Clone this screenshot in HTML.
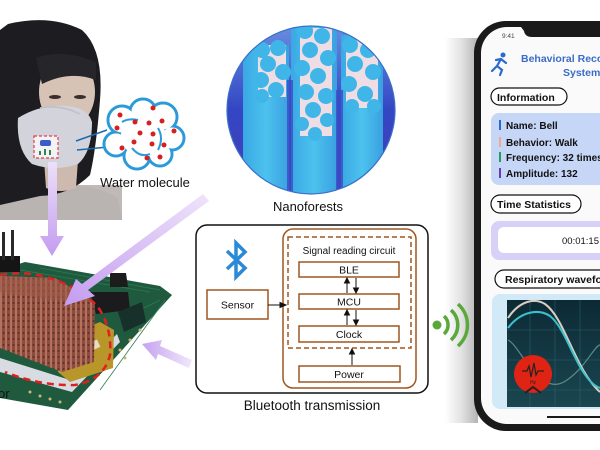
<!DOCTYPE html>
<html><head><meta charset="utf-8">
<style>
html,body{margin:0;padding:0;background:#fff;}
svg{display:block;}
text{font-family:"Liberation Sans",Arial,sans-serif;}
</style></head>
<body>
<svg width="600" height="450" viewBox="0 0 600 450" xmlns="http://www.w3.org/2000/svg">
<defs>
  <clipPath id="nc"><circle cx="311" cy="110" r="84"/></clipPath>
  <linearGradient id="dk" x1="0" y1="0" x2="0" y2="1">
    <stop offset="0" stop-color="#6a8ee0"/>
    <stop offset="0.5" stop-color="#3346c4"/>
    <stop offset="1" stop-color="#4a3cb4"/>
  </linearGradient>
  <linearGradient id="cy" x1="0" y1="0" x2="1" y2="0">
    <stop offset="0" stop-color="#3aa8e4"/>
    <stop offset="0.5" stop-color="#4cc2ee"/>
    <stop offset="1" stop-color="#3aa0e0"/>
  </linearGradient>
  <linearGradient id="shadow" x1="0" y1="0" x2="1" y2="0">
    <stop offset="0" stop-color="#ffffff"/>
    <stop offset="0.5" stop-color="#e2e2e2"/>
    <stop offset="1" stop-color="#b4b4b4"/>
  </linearGradient>
  <linearGradient id="graph" x1="0" y1="0" x2="0" y2="1">
    <stop offset="0" stop-color="#0c2a36"/>
    <stop offset="1" stop-color="#1a4650"/>
  </linearGradient>
  <linearGradient id="pa" x1="0" y1="0" x2="0" y2="1">
    <stop offset="0" stop-color="#ece0f8"/>
    <stop offset="1" stop-color="#c49cf0"/>
  </linearGradient>
  <linearGradient id="pd" x1="1" y1="0" x2="0" y2="1">
    <stop offset="0" stop-color="#eee4fa"/>
    <stop offset="1" stop-color="#c49cf0"/>
  </linearGradient>
  <linearGradient id="pr" x1="1" y1="0" x2="0" y2="0">
    <stop offset="0" stop-color="#f0e8fb"/>
    <stop offset="1" stop-color="#c6a2f0"/>
  </linearGradient>
  <pattern id="cu" width="5" height="6" patternUnits="userSpaceOnUse">
    <rect width="5" height="6" fill="#8a4c3c"/>
    <rect x="0" y="0" width="2" height="6" fill="#b57060"/>
    <circle cx="3.5" cy="3" r="1" fill="#5e3026"/>
  </pattern>
</defs>

<!-- ===== Woman photo ===== -->
<rect x="0" y="185" width="122" height="35" fill="#bfb9b8"/>
<path d="M0,192 Q30,182 60,186 Q95,184 118,198 L122,220 L0,220 Z" fill="#b9b3b2"/>
<path d="M8,24 Q50,14 82,30 Q104,50 100,100 Q96,150 90,175 Q70,195 40,196 L0,205 L0,30 Z" fill="#1d1c21"/>
<path d="M44,160 L78,160 L76,188 Q60,194 46,188 Z" fill="#cdb9ad"/>
<ellipse cx="67" cy="92" rx="28" ry="36" fill="#d7c3b6"/>
<path d="M36,58 Q62,48 96,62 L96,80 Q70,70 42,84 Z" fill="#26252a"/>
<ellipse cx="55" cy="97" rx="6" ry="2" fill="#3a2e2c"/>
<ellipse cx="80" cy="97" rx="6" ry="2" fill="#3a2e2c"/>
<path d="M18,118 Q40,104 68,106 Q88,108 92,122 Q92,152 78,164 Q55,172 32,164 Q16,150 18,118 Z" fill="#d3d3dc"/>
<path d="M40,108 Q60,104 80,114" stroke="#bfbfca" stroke-width="1.5" fill="none"/>
<rect x="34" y="136" width="24" height="22" fill="#f4f2f6" stroke="#e04040" stroke-width="1.2" stroke-dasharray="3,2"/>
<rect x="40" y="140" width="11" height="6" rx="2" fill="#3a5cc8"/>
<rect x="39" y="151" width="2" height="4" fill="#2a8a4a"/>
<rect x="44" y="149" width="2" height="6" fill="#2a8a4a"/>
<rect x="49" y="150" width="2" height="5" fill="#2a8a4a"/>
<line x1="76" y1="141" x2="107" y2="130" stroke="#1b6ab0" stroke-width="1.5"/>
<line x1="77" y1="150" x2="108" y2="147" stroke="#1b6ab0" stroke-width="1.5"/>

<!-- Cloud -->
<g stroke="#2a9ad8" stroke-width="3" fill="#fff">
  <circle cx="122" cy="120" r="14"/><circle cx="143" cy="112" r="13"/><circle cx="163" cy="117" r="14"/>
  <circle cx="172" cy="138" r="12"/><circle cx="160" cy="154" r="12"/><circle cx="137" cy="156" r="13"/>
  <circle cx="116" cy="144" r="12"/>
</g>
<g fill="#fff">
  <circle cx="122" cy="120" r="12.5"/><circle cx="143" cy="112" r="11.5"/><circle cx="163" cy="117" r="12.5"/>
  <circle cx="172" cy="138" r="10.5"/><circle cx="160" cy="154" r="10.5"/><circle cx="137" cy="156" r="11.5"/>
  <circle cx="116" cy="144" r="10.5"/><circle cx="143" cy="135" r="22"/>
</g>
<path d="M122,122 Q128,118 138,120 M158,128 Q164,138 158,150 M132,148 Q140,158 150,154" stroke="#2a9ad8" stroke-width="2" fill="none"/>
<g fill="#d42020">
  <circle cx="120" cy="115" r="2.5"/><circle cx="117" cy="128" r="2.5"/><circle cx="153" cy="108" r="2.5"/>
  <circle cx="135" cy="122" r="2.5"/><circle cx="149" cy="123" r="2.5"/><circle cx="162" cy="121" r="2.5"/>
  <circle cx="140" cy="133" r="2.5"/><circle cx="153" cy="134" r="2.5"/><circle cx="134" cy="142" r="2.5"/>
  <circle cx="152" cy="144" r="2.5"/><circle cx="164" cy="145" r="2.5"/><circle cx="174" cy="131" r="2.5"/>
  <circle cx="122" cy="148" r="2.5"/><circle cx="147" cy="158" r="2.5"/><circle cx="160" cy="157" r="2.5"/>
</g>
<text x="145" y="187" font-size="13" text-anchor="middle" fill="#111">Water molecule</text>

<!-- ===== Nanoforests circle ===== -->
<g clip-path="url(#nc)">
  <rect x="225" y="24" width="172" height="172" fill="url(#dk)"/>
  <rect x="243" y="45" width="46" height="155" fill="url(#cy)"/>
  <rect x="291" y="20" width="46" height="180" fill="url(#cy)"/>
  <rect x="341" y="35" width="42" height="165" fill="url(#cy)"/>
  <rect x="258" y="45" width="28" height="52" fill="#efdde6"/>
  <rect x="300" y="28" width="32" height="108" fill="#efdde6"/>
  <rect x="346" y="40" width="32" height="68" fill="#efdde6"/>
  <g fill="#40b6e8">
    <circle cx="262" cy="50" r="8"/><circle cx="278" cy="48" r="8"/><circle cx="268" cy="64" r="8"/><circle cx="283" cy="72" r="8"/>
    <circle cx="261" cy="80" r="8"/><circle cx="276" cy="90" r="8"/><circle cx="262" cy="96" r="7"/>
    <circle cx="305" cy="31" r="8"/><circle cx="322" cy="36" r="8"/><circle cx="310" cy="50" r="8"/><circle cx="328" cy="58" r="8"/>
    <circle cx="302" cy="68" r="8"/><circle cx="318" cy="76" r="8"/><circle cx="306" cy="92" r="8"/><circle cx="326" cy="96" r="8"/>
    <circle cx="313" cy="110" r="8"/><circle cx="302" cy="124" r="7"/><circle cx="327" cy="120" r="7"/><circle cx="315" cy="134" r="7"/>
    <circle cx="350" cy="45" r="8"/><circle cx="368" cy="50" r="8"/><circle cx="355" cy="64" r="8"/><circle cx="373" cy="72" r="8"/>
    <circle cx="349" cy="84" r="8"/><circle cx="365" cy="94" r="8"/><circle cx="352" cy="106" r="7"/><circle cx="374" cy="106" r="7"/>
  </g>
  <rect x="287" y="80" width="6" height="120" fill="#3a4cc6" opacity="0.8"/>
  <rect x="336" y="90" width="7" height="110" fill="#3a4cc6" opacity="0.8"/>
</g>
<circle cx="311" cy="110" r="84" fill="none" stroke="#3a70c8" stroke-width="1.2"/>
<text x="308" y="211" font-size="13" text-anchor="middle" fill="#111">Nanoforests</text>

<!-- ===== PCB ===== -->
<polygon points="0,270 25,262 160,286 172,295 68,410 0,398" fill="#1f5a3e"/>
<path d="M20,270 L150,292 M40,268 L160,290 M120,320 L160,300 M100,390 L165,300" stroke="#2e7a54" stroke-width="0.8" fill="none"/>
<g fill="#c8b870">
  <circle cx="30" cy="392" r="1.5"/><circle cx="40" cy="396" r="1.5"/><circle cx="50" cy="399" r="1.5"/><circle cx="60" cy="402" r="1.5"/>
  <circle cx="120" cy="350" r="1.5"/><circle cx="125" cy="358" r="1.5"/><circle cx="130" cy="340" r="1.5"/><circle cx="140" cy="330" r="1.5"/>
</g>
<rect x="0" y="256" width="20" height="16" fill="#151515"/>
<rect x="2" y="232" width="3" height="28" fill="#2a2a2a"/>
<rect x="11" y="230" width="3" height="30" fill="#2a2a2a"/>
<polygon points="110,273 126,273 128,287 110,287" fill="#1c1c1c"/>
<polygon points="90,292 128,292 130,310 96,314" fill="#1b1b1e"/>
<polygon points="118,312 142,302 146,322 124,332" fill="#18302a"/>
<polygon points="0,358 70,380 117,334 120,342 72,392 0,372" fill="#d8dce2"/>
<polygon points="56,340 100,322 114,330 113,368 70,382 58,372" fill="#b8962a"/>
<rect x="72" y="345" width="28" height="8" fill="#e6dcc0" transform="rotate(-25 86 349)"/>
<polygon points="0,276 55,278 95,302 94,362 62,372 0,348" fill="url(#cu)"/>
<polygon points="0,276 55,278 95,302 40,298 0,292" fill="#9e5c4a" opacity="0.6"/>
<path d="M0,275 Q30,270 55,280 Q85,290 100,310 Q112,330 110,355 Q104,380 75,385 Q40,386 5,372" fill="none" stroke="#e02020" stroke-width="2.5" stroke-dasharray="7,5"/>
<text x="-2" y="398" font-size="13" fill="#111">or</text>

<!-- purple arrows -->
<polygon points="48,162 57,162 57,236 64,236 52,256 40,236 48,236" fill="url(#pa)"/>
<polygon points="203,194 209,201 88,290 95,296 64,306 76,279 82,284" fill="url(#pd)"/>
<polygon points="192,360 189,368 158,354 156,360 142,344 162,340 160,346" fill="url(#pr)"/>

<!-- ===== Bluetooth box ===== -->
<rect x="196" y="225" width="232" height="168" rx="11" fill="#fff" stroke="#111" stroke-width="1.5"/>
<rect x="283" y="229" width="133" height="159" rx="10" fill="none" stroke="#a0561e" stroke-width="1.5"/>
<rect x="288" y="237" width="123" height="111" fill="none" stroke="#a0561e" stroke-width="1.5" stroke-dasharray="5,3"/>
<text x="349" y="254" font-size="10" text-anchor="middle" fill="#111">Signal reading circuit</text>
<g fill="#fff" stroke="#a0561e" stroke-width="1.5">
  <rect x="299" y="262" width="100" height="15"/>
  <rect x="299" y="294" width="100" height="15"/>
  <rect x="299" y="326" width="100" height="16"/>
  <rect x="299" y="366" width="101" height="16"/>
  <rect x="207" y="290" width="61" height="29"/>
</g>
<g font-size="10.5" text-anchor="middle" fill="#111">
  <text x="349" y="273.5">BLE</text>
  <text x="349" y="305.5">MCU</text>
  <text x="349" y="338">Clock</text>
  <text x="349" y="378">Power</text>
  <text x="237.5" y="308.5">Sensor</text>
</g>
<g stroke="#111" stroke-width="1" fill="#111">
  <line x1="268" y1="305" x2="282" y2="305"/><polygon points="286,305 280,302.5 280,307.5"/>
  <line x1="347" y1="293" x2="347" y2="282"/><polygon points="347,278 344.5,283 349.5,283"/>
  <line x1="356" y1="278" x2="356" y2="289"/><polygon points="356,293 353.5,288 358.5,288"/>
  <line x1="347" y1="325" x2="347" y2="314"/><polygon points="347,310 344.5,315 349.5,315"/>
  <line x1="356" y1="310" x2="356" y2="321"/><polygon points="356,325 353.5,320 358.5,320"/>
  <line x1="352" y1="365" x2="352" y2="353"/><polygon points="352,349 349.5,354 354.5,354"/>
</g>
<polyline points="227,251 245,268 236,277 236,243 245,252 227,269" fill="none" stroke="#2a8ad8" stroke-width="3.5" stroke-linejoin="miter"/>
<text x="312" y="410" font-size="13.5" text-anchor="middle" fill="#111">Bluetooth transmission</text>

<!-- ===== Phone ===== -->
<rect x="445" y="38" width="33" height="385" fill="url(#shadow)"/>

<!-- wifi -->
<circle cx="437" cy="325" r="4.5" fill="#5aa83a"/>
<path d="M444,316 A12,12 0 0 1 444,334" fill="none" stroke="#5aa83a" stroke-width="3.5"/>
<path d="M451,310 A20,20 0 0 1 451,340" fill="none" stroke="#5aa83a" stroke-width="3.5"/>
<path d="M458,304 A28,28 0 0 1 458,346" fill="none" stroke="#5aa83a" stroke-width="3.5"/>

<rect x="474" y="21" width="180" height="410" rx="32" fill="#1a1a1a"/>
<rect x="481" y="27" width="170" height="397" rx="26" fill="#fafafb"/>
<path d="M521,27 L600,27 L600,37 L532,37 Q525,37 524,31 Z" fill="#1a1a1a"/>
<text x="502" y="38" font-size="6.5" fill="#444">9:41</text>
<g fill="#2a6ad0" stroke="#2a6ad0" stroke-linecap="round">
  <circle cx="503" cy="55" r="2.5" stroke="none"/>
  <path d="M501,59 L497,66 L502,70 L500,75 M497,66 L492,71 M501,59 L506,63 M501,59 L496,60" fill="none" stroke-width="2.2"/>
</g>
<text x="521" y="62" font-size="10.5" font-weight="bold" fill="#3a6cc8">Behavioral Recognition</text>
<text x="563" y="76" font-size="10.5" font-weight="bold" fill="#3a6cc8">System</text>

<rect x="491" y="88" width="76" height="17" rx="8.5" fill="#fff" stroke="#111" stroke-width="1.2"/>
<text x="497" y="101" font-size="10.5" font-weight="bold" fill="#111">Information</text>

<rect x="491" y="113" width="125" height="72" rx="8" fill="#c6d6f6"/>
<rect x="499" y="120" width="2" height="10" fill="#2a6ad0"/>
<rect x="499" y="137" width="2" height="10" fill="#f0a890"/>
<rect x="499" y="152" width="2" height="10" fill="#20a060"/>
<rect x="499" y="168" width="2" height="10" fill="#6a3ab0"/>
<g font-size="10" font-weight="bold" fill="#111">
  <text x="506" y="129">Name: Bell</text>
  <text x="506" y="146">Behavior: Walk</text>
  <text x="506" y="161">Frequency: 32 times</text>
  <text x="506" y="177">Amplitude: 132</text>
</g>

<rect x="491" y="195" width="90" height="18" rx="9" fill="#fff" stroke="#111" stroke-width="1.2"/>
<text x="497" y="208" font-size="10.5" font-weight="bold" fill="#111">Time Statistics</text>

<rect x="491" y="221" width="125" height="39" rx="8" fill="#d8d0f6"/>
<rect x="498" y="227" width="120" height="26" rx="6" fill="#fff"/>
<text x="562" y="244" font-size="9.5" fill="#111">00:01:15</text>

<rect x="495" y="270" width="125" height="18" rx="9" fill="#fff" stroke="#111" stroke-width="1.2"/>
<text x="505" y="283" font-size="10.5" font-weight="bold" fill="#111">Respiratory waveform</text>

<rect x="492" y="294" width="125" height="115" rx="8" fill="#d2eaf8"/>
<rect x="507" y="300" width="110" height="107" fill="url(#graph)"/>
<g stroke="#2e6a70" stroke-width="0.6" opacity="0.8">
  <line x1="507" y1="330" x2="600" y2="330"/><line x1="507" y1="360" x2="600" y2="360"/><line x1="507" y1="390" x2="600" y2="390"/>
  <line x1="530" y1="300" x2="530" y2="407"/><line x1="555" y1="300" x2="555" y2="407"/><line x1="580" y1="300" x2="580" y2="407"/>
</g>
<path d="M508,340 C520,345 540,400 567,380 C585,368 595,345 600,345" fill="none" stroke="#5a8a88" stroke-width="1.2"/>
<path d="M508,318 C520,300 535,298 545,304 C565,318 575,370 600,392" fill="none" stroke="#d8d0c0" stroke-width="2"/>
<path d="M508,328 C520,312 538,308 550,316 C568,330 578,380 600,388" fill="none" stroke="#3cc0cc" stroke-width="2"/>
<circle cx="533" cy="374" r="19" fill="#e02414"/>
<polyline points="522,371 527,371 529,366 531,377 534,363 536,375 538,371 544,371" fill="none" stroke="#222" stroke-width="1.2"/>
<text x="533" y="384" font-size="5" text-anchor="middle" fill="#222">Hz</text>
<polyline points="525,393 533,387 541,393" fill="none" stroke="#222" stroke-width="2"/>
<line x1="547" y1="417" x2="605" y2="417" stroke="#1a1a1a" stroke-width="2"/>
</svg>
</body></html>
